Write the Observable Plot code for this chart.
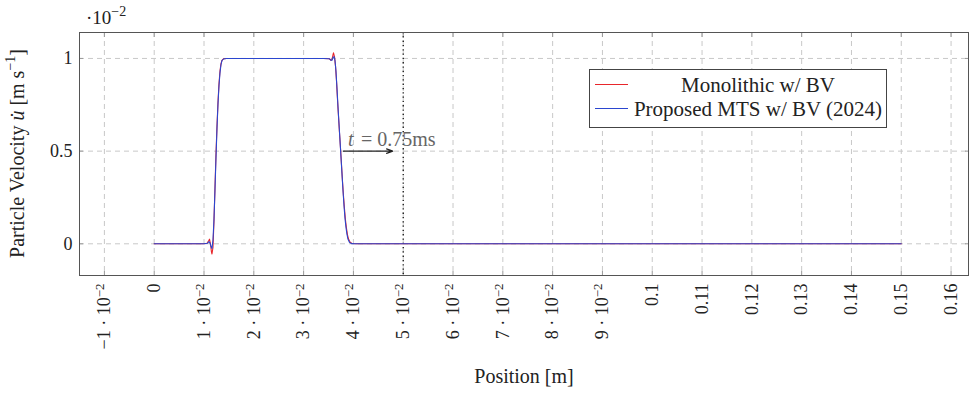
<!DOCTYPE html>
<html>
<head>
<meta charset="utf-8">
<script src="https://cdn.jsdelivr.net/npm/d3@7"></script>
<script src="https://cdn.jsdelivr.net/npm/@observablehq/plot@0.6"></script>
<style>
  body { margin: 0; background: #fff; }
  #wrap { position: relative; width: 969px; height: 398px; font-family: "Liberation Serif", serif; }
</style>
</head>
<body>
<div id="wrap"></div>
<script>
// ---- data (velocity in units of 1e-2 m/s) ----
const posMono = [0, 0.0100, 0.0106, 0.0109, 0.0111, 0.0113, 0.0115, 0.0116, 0.0118, 0.0120, 0.0122, 0.0124, 0.0126, 0.0128, 0.0130, 0.0132, 0.0134, 0.0136, 0.0139, 0.0145, 0.0340, 0.0352, 0.0355, 0.0357, 0.0359, 0.0360, 0.0362, 0.0364, 0.0366, 0.0368, 0.0370, 0.0372, 0.0374, 0.0376, 0.0378, 0.0380, 0.0382, 0.0384, 0.0386, 0.0388, 0.0390, 0.0393, 0.0397, 0.0405, 0.15];
const velMono = [0, 0, 0.003, 0.015, 0.025, 0.0, -0.045, -0.055, -0.02, 0.12, 0.3, 0.48, 0.63, 0.76, 0.86, 0.93, 0.97, 0.99, 0.998, 1.0, 1.0, 0.998, 0.99, 0.995, 1.02, 1.03, 1.01, 0.96, 0.88, 0.78, 0.69, 0.6, 0.52, 0.43, 0.34, 0.26, 0.19, 0.13, 0.085, 0.05, 0.027, 0.01, 0.002, 0, 0];
const posMTS = [0, 0.0100, 0.0107, 0.0110, 0.0112, 0.0114, 0.0116, 0.0118, 0.0120, 0.0122, 0.0124, 0.0126, 0.0128, 0.0130, 0.0132, 0.0134, 0.0136, 0.0139, 0.0145, 0.0340, 0.0352, 0.0355, 0.0357, 0.0359, 0.0361, 0.0363, 0.0365, 0.0367, 0.0369, 0.0371, 0.0373, 0.0375, 0.0377, 0.0379, 0.0381, 0.0383, 0.0385, 0.0387, 0.0389, 0.0392, 0.0396, 0.0403, 0.15];
const velMTS = [0, 0, 0.003, 0.012, 0.005, -0.015, -0.025, 0.02, 0.13, 0.29, 0.46, 0.62, 0.75, 0.85, 0.92, 0.965, 0.988, 0.997, 1.0, 1.0, 0.998, 0.99, 0.99, 1.005, 1.01, 0.99, 0.93, 0.84, 0.74, 0.65, 0.56, 0.47, 0.38, 0.29, 0.21, 0.14, 0.09, 0.052, 0.026, 0.008, 0.001, 0, 0];

const xTicks = [-0.01, 0, 0.01, 0.02, 0.03, 0.04, 0.05, 0.06, 0.07, 0.08, 0.09, 0.10, 0.11, 0.12, 0.13, 0.14, 0.15, 0.16];
const xTickLabels = ["−1 · 10^−2", "0", "1 · 10^−2", "2 · 10^−2", "3 · 10^−2", "4 · 10^−2", "5 · 10^−2", "6 · 10^−2", "7 · 10^−2", "8 · 10^−2", "9 · 10^−2", "0.1", "0.11", "0.12", "0.13", "0.14", "0.15", "0.16"];
const yTicks = [0, 0.5, 1];
const yTickLabels = ["0", "0.5", "1"];

const markerX = [0.05];          // dotted vertical line
const arrowStart = [0.0380];
const arrowEnd = [0.0479];
const arrowY = [0.5];
const noteX = [0.0389];
const noteY = [0.563];

const seriesNames = ["Monolithic w/ BV", "Proposed MTS w/ BV (2024)"];
const seriesColors = ["#e8262b", "#2b46cf"];

// ---- build tables ----
const mono = posMono.map((x, i) => ({x, y: velMono[i]}));
const mts = posMTS.map((x, i) => ({x, y: velMTS[i]}));
const xLab = new Map(xTicks.map((t, i) => [t, xTickLabels[i]]));
const yLab = new Map(yTicks.map((t, i) => [t, yTickLabels[i]]));
const arrows = arrowStart.map((a, i) => ({x1: a, x2: arrowEnd[i], y: arrowY[i]}));
const notes = noteX.map((x, i) => ({x, y: noteY[i]}));

const chart = Plot.plot({
  width: 969,
  height: 398,
  marginLeft: 79,
  marginRight: 1,
  marginTop: 32,
  marginBottom: 123,
  style: {fontFamily: "'Liberation Serif', serif", fontSize: "18px", color: "#222", background: "#fff"},
  x: {domain: [-0.0150, 0.1635]},
  y: {domain: [-0.171, 1.140]},
  marks: [
    Plot.gridX(xTicks, {stroke: "#c8c8c8", strokeOpacity: 1, strokeDasharray: "5,4"}),
    Plot.gridY(yTicks, {stroke: "#c8c8c8", strokeOpacity: 1, strokeDasharray: "5,4"}),
    Plot.axisX(xTicks, {anchor: "bottom", tickSize: -4, stroke: "#999", tickFormat: () => "", label: null}),
    Plot.axisX(xTicks, {anchor: "top", tickSize: -4, stroke: "#999", tickFormat: () => "", label: null}),
    Plot.axisY(yTicks, {anchor: "left", tickSize: -4, stroke: "#999", tickFormat: () => "", label: null}),
    Plot.axisY(yTicks, {anchor: "right", tickSize: -4, stroke: "#999", tickFormat: () => "", label: null}),
    Plot.axisX(xTicks, {anchor: "bottom", tickSize: 0, tickPadding: 8, tickRotate: -90, tickFormat: d => xLab.get(d), label: null, fill: "#222"}),
    Plot.axisY(yTicks, {anchor: "left", tickSize: 0, tickPadding: 7, tickFormat: d => yLab.get(d), label: null, fill: "#222"}),
    Plot.ruleX(markerX, {stroke: "#111", strokeWidth: 1.3, strokeDasharray: "1.3,3"}),
    Plot.line(mono, {x: "x", y: "y", stroke: seriesColors[0], strokeWidth: 1.1}),
    Plot.line(mts, {x: "x", y: "y", stroke: seriesColors[1], strokeWidth: 1.1}),
    Plot.arrow(arrows, {x1: "x1", x2: "x2", y1: "y", y2: "y", stroke: "#222", strokeWidth: 1.1, headLength: 9, headAngle: 40}),
    Plot.text(notes, {x: "x", y: "y", text: () => "t", fontStyle: "italic", textAnchor: "start", fill: "#666", fontSize: 20}),
    Plot.text(notes, {x: "x", y: "y", text: () => "= 0.75ms", textAnchor: "start", dx: 13, fill: "#666", fontSize: 20}),
    Plot.text(["Position [m]"], {frameAnchor: "bottom", dy: 107, fontSize: 20, fill: "#222"}),
    Plot.frame({stroke: "#555", strokeWidth: 1})
  ]
});

const wrap = document.getElementById("wrap");
wrap.appendChild(chart);
const svg = d3.select(chart);

// turn "a^b" tick labels into real superscripts
svg.selectAll("text").each(function () {
  const t = this.textContent;
  if (t.includes("^")) {
    const [base, sup] = t.split("^");
    const el = d3.select(this);
    el.selectAll("*").remove();
    el.text(null);
    el.append("tspan").text(base);
    el.append("tspan").attr("font-size", 13).attr("dy", "-0.45em").text(sup);
  }
});

// y-axis title and scale factor with italic / superscript parts
const yl = svg.append("text")
  .attr("transform", "translate(19,153.5) rotate(-90)")
  .attr("text-anchor", "middle").attr("dominant-baseline", "middle")
  .attr("font-size", 20).attr("fill", "#222");
yl.append("tspan").text("Particle Velocity ");
yl.append("tspan").attr("font-style", "italic").text("u\u0307");
yl.append("tspan").text(" [m s");
yl.append("tspan").attr("font-size", 14).attr("dy", -7).text("−1");
yl.append("tspan").attr("dy", 7).text("]");

const sf = svg.append("text").attr("x", 86).attr("y", 24).attr("text-anchor", "start")
  .attr("font-size", 19).attr("fill", "#222");
sf.append("tspan").text("·10");
sf.append("tspan").attr("font-size", 14).attr("dy", -8).text("−2");

// legend (SVG)
const lg = svg.append("g").attr("transform", "translate(589,69)");
lg.append("rect").attr("x", 0.5).attr("y", 0.5).attr("width", 297).attr("height", 58)
  .attr("fill", "#fff").attr("stroke", "#444").attr("stroke-width", 1);
seriesNames.forEach((name, i) => {
  const cy = 15.5 + i * 24;
  lg.append("line").attr("x1", 6).attr("x2", 39).attr("y1", cy).attr("y2", cy)
    .attr("stroke", seriesColors[i]).attr("stroke-width", 1.2);
  lg.append("text").attr("x", 169).attr("y", cy).attr("text-anchor", "middle")
    .attr("dominant-baseline", "central").attr("font-size", 21).attr("fill", "#222").text(name);
});
</script>
</body>
</html>
